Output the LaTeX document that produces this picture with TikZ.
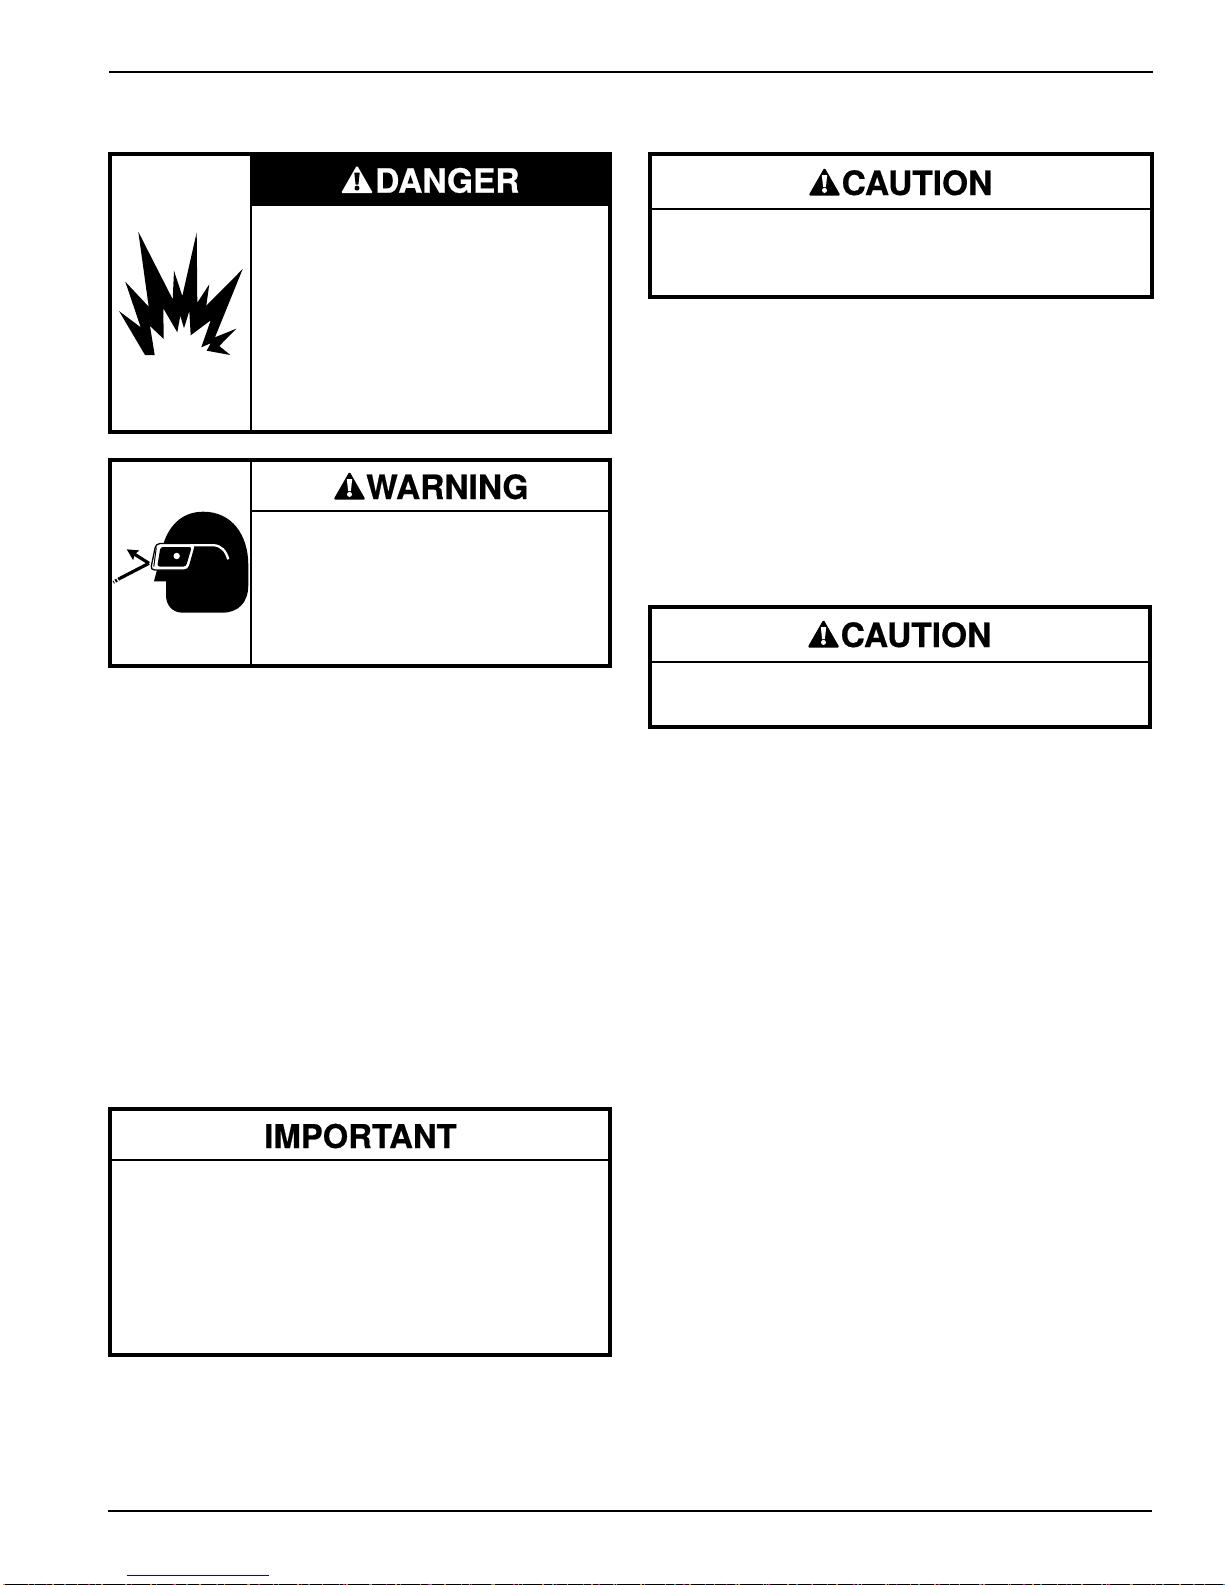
\documentclass[tikz,border=0pt]{standalone}
\usepackage{fontspec}
\setmainfont{TeX Gyre Heros}
\newfontfamily\signfont[UprightFont={* Bold}, FakeBold=0.5]{TeX Gyre Heros}
\usetikzlibrary{arrows.meta}
\definecolor{linkblue}{RGB}{0,0,204}
\tikzset{
    signbox/.style = {draw, line width=4pt, anchor=north west, inner sep=0pt, outer sep=0pt},
    headrule/.style = {line width=1.6pt},
    signtitle/.style = {font=\fontsize{33.5}{36}\signfont\selectfont, anchor=base west, inner sep=0pt},
    pagerule/.style = {line width=2pt},
    pics/alertsign/.style 2 args = {code = {
        \fill[#1, rounded corners=1.5pt] (-16, 0.5) -- (0, -27.5) -- (16, 0.5) -- cycle;
        \fill[#2] (-2.7, -20) -- (2.7, -20) -- (1.4, -8) -- (-1.4, -8) -- cycle;
        \fill[#2] (0, -4.6) circle (2.5);
    }}
}
\begin{document}
\begin{tikzpicture}[x=1pt, y=-1pt]
    \useasboundingbox (0, 0) rectangle (1225, 1585);

    \coordinate (topL) at (109, 72);
    \coordinate (topR) at (1153, 72);
    \coordinate (botL) at (108, 1511);
    \coordinate (botR) at (1152, 1511);
    \draw[pagerule] (topL) -- (topR);
    \draw[pagerule] (botL) -- (botR);

    \node[signbox, minimum width=500pt, minimum height=278pt] (dangerbox) at (110, 154) {};
    \node[fill=black, anchor=north west, inner sep=0pt, outer sep=0pt, minimum width=362pt, minimum height=54pt] (dangerhead) at (250, 152) {};
    \draw[line width=2pt] ([xshift=1pt]dangerhead.south west) -- ([xshift=1pt]dangerhead.south west |- dangerbox.south);
    \node[signtitle, white] (dangertitle) at (375, 192.7) {DANGER};
    \pic at (357, 192.7) {alertsign={white}{black}};
    \fill (145, 355) -- (119, 311) -- (140.7, 327.3) -- (125.3, 281.7) -- (148.7, 306.7) -- (138.3, 231.7)
        -- (172.7, 299.3) -- (174, 270.7) -- (182.3, 296) -- (196.7, 232.3) -- (197.3, 302.7) -- (209.3, 284.3)
        -- (206.3, 305.7) -- (242.7, 269) -- (215, 337.3) -- (236.3, 328.7) -- (219.3, 346) -- (230.3, 355)
        -- (206.7, 350.7) -- (210.7, 343.3) -- (201.3, 347.3) -- (210.7, 320.3) -- (190.7, 335.3) -- (189.3, 311)
        -- (184, 328.3) -- (180.3, 315.7) -- (177.3, 332.3) -- (163.3, 308.3) -- (163.7, 339) -- (150, 326)
        -- (154.7, 355) -- cycle;

    \node[signbox, minimum width=500pt, minimum height=206pt] (warningbox) at (110, 460) {};
    \coordinate (warningdiv) at (250.7, 460);
    \draw[headrule] (warningdiv) -- (warningdiv |- warningbox.south);
    \draw[headrule] (warningdiv |- 0, 510.7) -- (warningbox.east |- 0, 510.7);
    \node[signtitle] (warningtitle) at (366, 499) {WARNING};
    \pic at (349.5, 499) {alertsign={black}{white}};

    \fill (166, 581.3) -- (154, 581.3) -- (158, 566) -- (163, 545)
        .. controls (170, 522) and (185, 511.7) .. (203.3, 511.7)
        .. controls (232, 511.7) and (248.3, 535) .. (248.3, 565) -- (248.3, 585)
        .. controls (248.3, 603) and (238, 612.7) .. (222, 612.7) -- (183, 612.7)
        .. controls (172, 612.7) and (166, 605) .. (166, 595) -- cycle;
    \draw[fill=white, line width=1.3pt, rounded corners=4pt] (156, 543.5) -- (196, 543.5) -- (188.5, 570) -- (150.5, 570) -- cycle;
    \fill[rounded corners=2.5pt] (160.5, 547) -- (191.7, 547) -- (186, 566.5) -- (157.2, 566.5) -- cycle;
    \draw[line width=1pt] (156.3, 547.5) -- (153.8, 566.5);
    \fill[white] (176.7, 556) circle (3.2);
    \draw[white, line width=2.3pt] (190, 545.2) -- (213, 545.2) .. controls (221, 545.2) and (226, 551) .. (228.3, 559.3);

    \coordinate (rayhit) at (149, 563.3);
    \coordinate (rayback) at (126.7, 549.3);
    \coordinate (raymid) at (120, 578.3);
    \coordinate (rayfar) at (113.3, 582.3);
    \draw[line width=3.2pt, -{Stealth[length=11pt, width=11pt, inset=1.5pt]}] (rayhit) -- (rayback);
    \draw[line width=3.2pt] (rayhit) -- (raymid);
    \draw[line width=3.2pt, dash pattern=on 2pt off 1.5pt] (raymid) -- (rayfar);

    \node[signbox, minimum width=502pt, minimum height=143pt] (cautionone) at (650, 154) {};
    \draw[headrule] (cautionone.west |- 0, 209) -- (cautionone.east |- 0, 209);
    \node[signtitle] (cautiononetitle) at (841.5, 195) {CAUTION};
    \pic at (824.5, 195) {alertsign={black}{white}};

    \node[signbox, minimum width=500.3pt, minimum height=120pt] (cautiontwo) at (650, 606.7) {};
    \draw[headrule] (cautiontwo.west |- 0, 661.7) -- (cautiontwo.east |- 0, 661.7);
    \node[signtitle] (cautiontwotitle) at (840.5, 647) {CAUTION};
    \pic at (823.5, 647) {alertsign={black}{white}};

    \node[signbox, minimum width=500pt, minimum height=246pt] (importantbox) at (110, 1108.7) {};
    \draw[headrule] (importantbox.west |- 0, 1160) -- (importantbox.east |- 0, 1160);
    \node[signtitle, anchor=base, font=\fontsize{32.8}{36}\signfont\selectfont] (importanttitle) at (360.5, 1148) {IMPORTANT};

    \coordinate (linkL) at (127, 1575.3);
    \coordinate (linkR) at (269, 1575.3);
    \draw[linkblue, line width=1pt] (linkL) -- (linkR);

    \coordinate (edgeL) at (3, 1584.5);
    \coordinate (edgeR) at (1225, 1584.5);
    \draw[line width=1pt] (edgeL) -- (edgeR);
    \draw[magenta, line width=1pt, dash pattern=on 1.5pt off 41pt] (edgeL) -- (edgeR);
    \draw[cyan!70!black, line width=1pt, dash pattern=on 1.5pt off 29pt] (edgeL) -- (edgeR);
    \draw[orange, line width=1pt, dash pattern=on 1.5pt off 23pt] (edgeL) -- (edgeR);
\end{tikzpicture}
\end{document}
